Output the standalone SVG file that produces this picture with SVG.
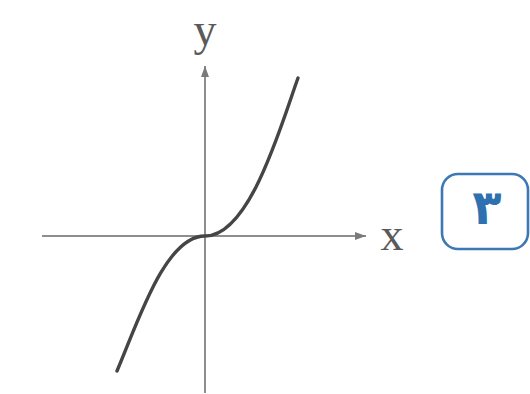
<svg xmlns="http://www.w3.org/2000/svg" width="530" height="394" viewBox="0 0 530 394">
<style>
.axis{stroke:#8e8e8e;stroke-width:2;fill:none}
.curve{stroke:#454545;stroke-width:3.4;fill:none;stroke-linecap:round}
.lbl{font-family:"Liberation Serif",serif;font-size:46px;fill:#5a5a5a}
.badge{fill:#ffffff;stroke:#3b78b4;stroke-width:2.6}
.num{font-family:"DejaVu Sans",sans-serif;font-weight:bold;font-size:48px;fill:#2f71b0}
</style>
<defs>
<marker id="arr" markerWidth="12" markerHeight="10" refX="11" refY="5" orient="auto" markerUnits="userSpaceOnUse">
<path d="M0,1 L11,5 L0,9 Z" fill="#7a7a7a"/>
</marker>
</defs>
<rect width="530" height="394" fill="#ffffff"/>
<g id="connectors">
<line class="axis" x1="42" y1="236" x2="366" y2="236" marker-end="url(#arr)"/>
<line class="axis" x1="205" y1="393" x2="205" y2="66" marker-end="url(#arr)"/>
</g>
<g id="curve">
<path class="curve" d="M117,371 C138,322 165,236 205,236 C250,236 281,125 298,78"/>
</g>
<g id="labels">
<text class="lbl" x="205" y="45" text-anchor="middle">y</text>
<text class="lbl" x="392" y="250" text-anchor="middle">x</text>
</g>
<g id="badge">
<rect class="badge" x="442" y="174" width="86" height="75" rx="16"/>
<text class="num" x="487" y="224" text-anchor="middle">۳</text>
</g>
</svg>
